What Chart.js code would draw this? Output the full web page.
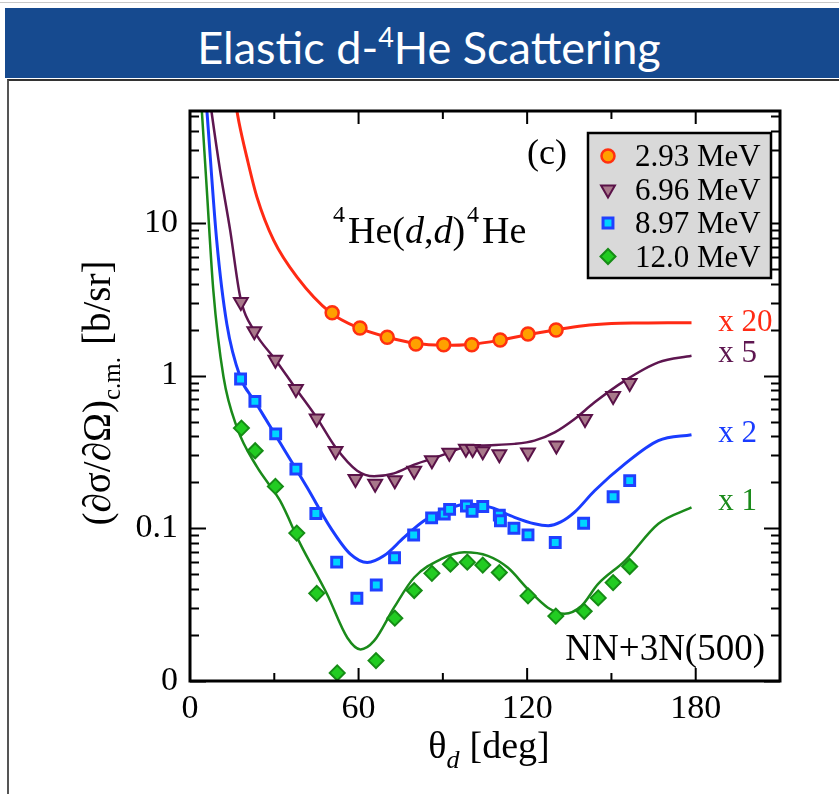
<!DOCTYPE html>
<html>
<head>
<meta charset="utf-8">
<script src="https://cdn.jsdelivr.net/npm/chart.js@4.4.0/dist/chart.umd.min.js"></script>
<style>
  body { margin: 0; background: #fff; }
  #wrap { position: relative; width: 839px; height: 794px; overflow: hidden; }
  #topline { position: absolute; left: 0; top: 2px; width: 839px; height: 1px; background: #c8c8c8; }
  #bar { position: absolute; left: 5px; top: 8px; width: 834px; height: 70px; background: #164a8f; }
  #bar span { position: absolute; left: 14px; right: 0; top: 8px; text-align: center; color: #fff; font-family: Lato, "Open Sans", sans-serif; font-size: 45px; line-height: 44px; white-space: nowrap; }
  #bar sup { font-size: 27px; position: relative; top: -1px; }
  #panel { position: absolute; left: 7px; top: 79px; width: 900px; height: 800px; border-left: 2px solid #555; border-top: 2px solid #333; }
  canvas { position: absolute; left: 0; top: 0; }
</style>
</head>
<body>
<div id="wrap">
  <div id="topline"></div>
  <div id="bar"><span>Elastic d-<sup>4</sup>He Scattering</span></div>
  <div id="panel"></div>
  <canvas id="chart" width="839" height="794"></canvas>
</div>
<script>
// measured points (theta in deg, cross section in b/sr, already scaled)
const angRed = [50.6, 60.5, 70.2, 80.4, 90.3, 100.3, 110.4, 120.3, 130.3];
const valRed = [2.58, 2.05, 1.78, 1.61, 1.59, 1.59, 1.71, 1.87, 1.99];

const angPur = [18.1, 22.9, 30.4, 37.7, 45.1, 51.8, 58.9, 65.9, 72.9, 79.8, 86.1, 92.3, 98.2, 100.6, 104.2, 110.1, 120.3, 130.4, 140.6, 150.6, 156.5];
const valPur = [3.03, 1.95, 1.27, 0.818, 0.524, 0.321, 0.210, 0.196, 0.206, 0.238, 0.279, 0.312, 0.332, 0.331, 0.320, 0.305, 0.313, 0.348, 0.520, 0.734, 0.893];

const angBlu = [18.0, 23.1, 30.5, 37.7, 44.8, 52.2, 59.4, 66.3, 72.8, 79.6, 86.0, 90.5, 92.4, 98.4, 100.4, 104.2, 110.1, 110.5, 115.3, 120.3, 130.0, 140.1, 150.6, 156.5];
const valBlu = [0.949, 0.678, 0.415, 0.244, 0.125, 0.060, 0.0348, 0.0425, 0.0641, 0.0904, 0.117, 0.124, 0.133, 0.140, 0.129, 0.139, 0.122, 0.112, 0.100, 0.0906, 0.0807, 0.108, 0.161, 0.205];

const angGrn = [18.3, 23.2, 30.4, 38.0, 45.1, 52.4, 66.2, 72.9, 79.8, 86.1, 92.7, 98.7, 104.2, 110.1, 120.3, 130.2, 140.3, 145.3, 150.6, 156.5];
const valGrn = [0.453, 0.322, 0.188, 0.093, 0.0375, 0.0113, 0.0136, 0.0258, 0.0391, 0.0507, 0.0582, 0.0600, 0.0574, 0.0513, 0.0361, 0.0266, 0.0286, 0.0350, 0.0441, 0.0562];

// NN+3N(500) calculations
const curveAngRed = [16, 17.5, 20.2, 23.8, 29.8, 38.1, 50, 60, 70, 80, 90, 100, 110, 120, 130, 140, 150, 160, 170, 178.5];
const curveValRed = [64, 44.9, 27.0, 14.8, 7.67, 4.41, 2.58, 2.05, 1.79, 1.63, 1.58, 1.60, 1.70, 1.85, 1.99, 2.12, 2.19, 2.21, 2.22, 2.22];

const curveAngPur = [7.2, 7.75, 10.7, 14.3, 17.9, 22.9, 30.4, 37.7, 45.1, 51.8, 59.5, 65.5, 72.6, 79.8, 89.3, 97.6, 103.6, 115.5, 122.6, 129.8, 136.9, 144, 154.8, 166.7, 178.5];
const curveValPur = [62, 52, 22.1, 8.93, 3.26, 1.95, 1.27, 0.82, 0.53, 0.339, 0.238, 0.219, 0.229, 0.261, 0.299, 0.339, 0.348, 0.357, 0.375, 0.425, 0.520, 0.668, 0.927, 1.22, 1.35];

const curveAngBlu = [5.5, 6.0, 9.5, 13.1, 17.9, 23.1, 29.8, 41.7, 50, 57.1, 63.1, 69.0, 76.2, 83.3, 91.7, 98.8, 107.1, 115.5, 122.6, 127.5, 132, 137, 144, 154.8, 166.7, 178.5];
const curveValBlu = [72, 54.7, 7.68, 2.18, 0.975, 0.678, 0.425, 0.185, 0.101, 0.0677, 0.0597, 0.066, 0.0871, 0.112, 0.134, 0.144, 0.137, 0.118, 0.107, 0.104, 0.110, 0.128, 0.176, 0.264, 0.375, 0.410];

const curveAngGrn = [3.8, 4.2, 6.0, 8.3, 11.9, 16.7, 23.8, 32.1, 39.3, 48.8, 56.0, 60.7, 65.5, 72.6, 79.8, 89.3, 97.6, 106, 113.1, 120.3, 127.4, 133.3, 139.3, 145.2, 154.8, 166.7, 178.5];
const curveValGrn = [71, 54.7, 16.3, 3.61, 0.985, 0.458, 0.253, 0.151, 0.0788, 0.037, 0.0192, 0.0161, 0.0183, 0.0302, 0.0476, 0.0628, 0.0696, 0.066, 0.0553, 0.0399, 0.0302, 0.0276, 0.031, 0.0431, 0.0612, 0.107, 0.137];

const legendLabels = ['2.93 MeV', '6.96 MeV', '8.97 MeV', '12.0 MeV'];
const factorLabels = ['x 20', 'x 5', 'x 2', 'x 1'];
const factorPos = [2.2, 1.39, 0.415, 0.148];
const factorAng = 188;
const yTickText = { '-2': '0', '-1': '0.1', '0': '1', '1': '10' };

const serif = '"Liberation Serif", "DejaVu Serif", serif';
const colRed = '#ff2a14', colPur = '#5e1650', colBlu = '#1a3cff', colGrn = '#1a8a1a';

function pts(xs, ys) {
    return xs.map((v, i) => ({ x: v, y: ys[i] }));
}

function curve(xs, ys, color, width) {
    return {
        data: pts(xs, ys),
        showLine: true,
        borderColor: color,
        borderWidth: width,
        pointRadius: 0,
        cubicInterpolationMode: 'monotone',
        order: 2
    };
}

function marks(label, xs, ys, style, fill, border, radius, bw, rot) {
    return {
        label: label,
        data: pts(xs, ys),
        showLine: false,
        pointStyle: style,
        pointRotation: rot || 0,
        pointRadius: radius,
        pointBorderWidth: bw,
        backgroundColor: fill,
        borderColor: border,
        order: 1
    };
}

const pointSets = [
    marks(legendLabels[0], angRed, valRed, 'circle', '#ffa000', '#ff3010', 6.5, 2.5),
    marks(legendLabels[1], angPur, valPur, 'triangle', '#a8788a', '#5a1248', 8, 2, 180),
    marks(legendLabels[2], angBlu, valBlu, 'rect', '#00d4ff', '#2040ff', 7, 3),
    marks(legendLabels[3], angGrn, valGrn, 'rectRot', '#22cc22', '#168c16', 7.5, 2)
];

function runs(ctx, list, x, y, align) {
    let w = 0;
    list.forEach(r => { ctx.font = r.font; w += ctx.measureText(r.t).width + (r.gap || 0); });
    let cx = align === 'center' ? x - w / 2 : align === 'right' ? x - w : x;
    list.forEach(r => {
        ctx.font = r.font;
        ctx.fillText(r.t, cx, y + (r.dy || 0));
        cx += ctx.measureText(r.t).width + (r.gap || 0);
    });
}

const decor = {
    id: 'decor',
    afterDraw(chart) {
        const { ctx, chartArea: a, scales: { x, y } } = chart;
        ctx.save();
        ctx.strokeStyle = '#000';
        ctx.lineWidth = 2;
        ctx.beginPath();
        x.ticks.forEach(t => {
            if (t.value <= 0 || t.value >= x.max) return;
            const px = x.getPixelForValue(t.value);
            const len = t.value % 60 === 0 ? 13 : 8;
            ctx.moveTo(px, a.bottom); ctx.lineTo(px, a.bottom - len);
            ctx.moveTo(px, a.top); ctx.lineTo(px, a.top + len);
        });
        y.ticks.forEach(t => {
            const e = Math.floor(Math.log10(t.value) + 1e-9);
            const m = t.value / Math.pow(10, e);
            if (Math.abs(m - Math.round(m)) > 1e-6 || t.value > y.max) return;
            const py = Math.round(y.getPixelForValue(t.value)) + 0.5;
            const len = Math.round(m) === 1 ? 16 : 9;
            ctx.moveTo(a.left, py); ctx.lineTo(a.left + len, py);
            ctx.moveTo(a.right, py); ctx.lineTo(a.right - len, py);
        });
        ctx.stroke();
        ctx.lineWidth = 3;
        ctx.strokeRect(a.left, a.top, a.right - a.left, a.bottom - a.top);

        // scale factors
        ctx.textBaseline = 'middle';
        ctx.font = '31px ' + serif;
        const fc = [colRed, colPur, colBlu, colGrn];
        factorLabels.forEach((s, i) => {
            ctx.fillStyle = fc[i];
            ctx.fillText(s, x.getPixelForValue(factorAng), y.getPixelForValue(factorPos[i]));
        });

        // legend
        ctx.fillStyle = '#d9d9d9';
        ctx.fillRect(588, 133, 183, 145);
        ctx.lineWidth = 2.5;
        ctx.strokeStyle = '#000';
        ctx.strokeRect(588, 133, 183, 145);
        pointSets.forEach((ds, i) => {
            const ry = 156 + i * 33.5;
            ctx.fillStyle = ds.backgroundColor;
            ctx.strokeStyle = ds.borderColor;
            ctx.lineWidth = ds.pointBorderWidth;
            Chart.helpers.drawPoint(ctx, { pointStyle: ds.pointStyle, rotation: ds.pointRotation, radius: ds.pointRadius, borderWidth: ds.pointBorderWidth }, 608, ry);
            ctx.fillStyle = '#000';
            ctx.font = '31px ' + serif;
            ctx.textBaseline = 'alphabetic';
            ctx.fillText(ds.label, 635, ry + 10);
        });

        // annotations
        ctx.fillStyle = '#000';
        ctx.textBaseline = 'alphabetic';
        ctx.font = '36px ' + serif;
        ctx.fillText('(c)', 527, 164);
        const big = '38px ' + serif, ital = 'italic 38px ' + serif, sup = '24px ' + serif;
        runs(ctx, [
            { t: '4', font: sup, dy: -21, gap: 3 }, { t: 'He(', font: big }, { t: 'd', font: ital },
            { t: ',', font: big }, { t: 'd', font: ital }, { t: ')', font: big, gap: 2 },
            { t: '4', font: sup, dy: -21, gap: 3 }, { t: 'He', font: big }
        ], 333, 243, 'left');
        ctx.font = '37px ' + serif;
        ctx.textAlign = 'right';
        ctx.fillText('NN+3N(500)', 765, 660);
        ctx.textAlign = 'left';

        // axis titles
        runs(ctx, [
            { t: 'θ', font: '38px ' + serif }, { t: 'd', font: 'italic 26px ' + serif, dy: 10, gap: 10 },
            { t: '[deg]', font: '38px ' + serif }
        ], 489, 758, 'center');
        ctx.translate(110, 393);
        ctx.rotate(-Math.PI / 2);
        runs(ctx, [
            { t: '(∂σ/∂Ω)', font: '39px ' + serif }, { t: 'c.m.', font: '25px ' + serif, dy: 10, gap: 12 },
            { t: '[b/sr]', font: '39px ' + serif }
        ], 0, 0, 'center');
        ctx.restore();
    }
};

new Chart(document.getElementById('chart'), {
    type: 'scatter',
    data: {
        datasets: pointSets.concat([
            curve(curveAngRed, curveValRed, colRed, 3),
            curve(curveAngPur, curveValPur, colPur, 2.5),
            curve(curveAngBlu, curveValBlu, colBlu, 3),
            curve(curveAngGrn, curveValGrn, colGrn, 2.5)
        ])
    },
    options: {
        responsive: false,
        animation: false,
        devicePixelRatio: 1,
        layout: { padding: { left: 0, right: 59, top: 111, bottom: 0 } },
        plugins: { legend: { display: false }, tooltip: { enabled: false } },
        scales: {
            x: {
                type: 'linear',
                min: 0,
                max: 210,
                grid: { display: false, drawTicks: false },
                border: { display: false },
                afterFit: s => { s.height = 113; },
                ticks: {
                    stepSize: 30,
                    autoSkip: false,
                    maxRotation: 0,
                    padding: 8,
                    color: '#000',
                    font: { family: serif, size: 34 },
                    callback: v => (v % 60 === 0 && v <= 180 ? String(v) : '')
                }
            },
            y: {
                type: 'logarithmic',
                min: 0.01,
                max: 54,
                grid: { display: false, drawTicks: false },
                border: { display: false },
                afterFit: s => { s.width = 190; },
                ticks: {
                    autoSkip: false,
                    padding: 12,
                    color: '#000',
                    font: { family: serif, size: 34 },
                    callback: v => {
                        const l = Math.log10(v);
                        return Math.abs(l - Math.round(l)) < 1e-6 ? (yTickText[Math.round(l)] || '') : '';
                    }
                }
            }
        }
    },
    plugins: [decor]
});
</script>
</body>
</html>
